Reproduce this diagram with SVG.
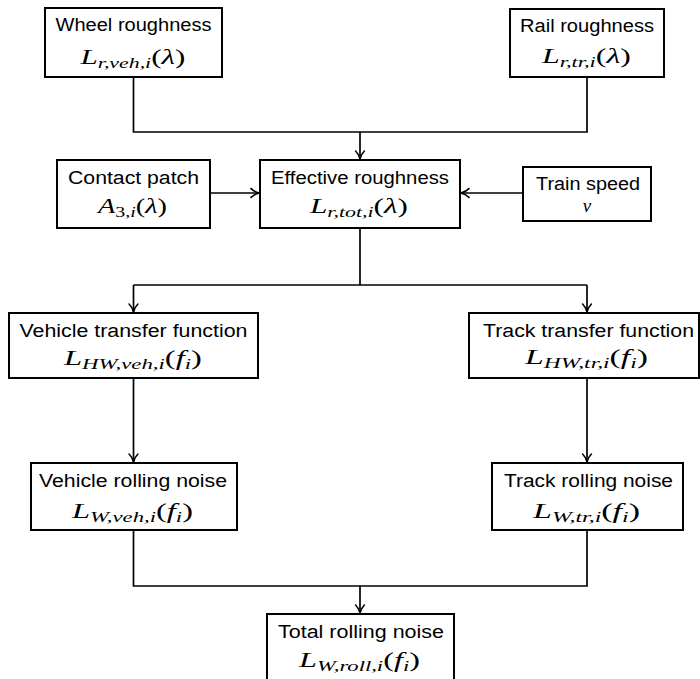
<svg xmlns="http://www.w3.org/2000/svg" width="700" height="679" viewBox="0 0 700 679">
  <style>
    .box { fill: #ffffff; stroke: #000000; stroke-width: 2; }
    .line { fill: none; stroke: #000000; stroke-width: 1.7; }
    .t { font-family: "Liberation Sans", Arial, sans-serif; font-size: 18px; fill: #000000; text-anchor: middle; }
    .m { font-family: "Liberation Serif", "Times New Roman", serif; font-size: 20px; font-style: italic; fill: #000000; text-anchor: middle; }
    .sub { font-size: 14px; }
    .up { font-style: normal; }
  </style>
  <defs>
    <marker id="tip" markerUnits="userSpaceOnUse" viewBox="-10 -6 12 12" refX="0" refY="0" markerWidth="12" markerHeight="12" orient="auto">
      <path d="M-8,-4.4 C-6,-2.3 -2,-0.6 0,0 C-2,0.6 -6,2.3 -8,4.4" fill="none" stroke="#000000" stroke-width="1.6" stroke-linecap="round"/>
    </marker>
  </defs>

  <rect width="700" height="679" fill="#ffffff"/>

  <!-- connectors -->
  <g id="connectors">
    <!-- wheel + rail roughness merge into effective roughness -->
    <path class="line" d="M133.5,77 V132 H587 V77"/>
    <path class="line" d="M360,132 V159" marker-end="url(#tip)"/>
    <!-- side inputs -->
    <path class="line" d="M210,193 H259" marker-end="url(#tip)"/>
    <path class="line" d="M523,193 H461" marker-end="url(#tip)"/>
    <!-- effective roughness splits to the transfer functions -->
    <path class="line" d="M360,228 V285"/>
    <path class="line" d="M133.5,285 H587"/>
    <path class="line" d="M133.5,285 V312" marker-end="url(#tip)"/>
    <path class="line" d="M587,285 V312" marker-end="url(#tip)"/>
    <!-- transfer functions to rolling noise -->
    <path class="line" d="M133.5,378 V462" marker-end="url(#tip)"/>
    <path class="line" d="M587,378 V462" marker-end="url(#tip)"/>
    <!-- rolling noise merge into total -->
    <path class="line" d="M133.5,530 V586 H587 V530"/>
    <path class="line" d="M360,586 V613" marker-end="url(#tip)"/>
  </g>

  <g id="wheel-roughness">
    <rect class="box" x="45" y="8" width="177" height="69"/>
    <text class="t" x="133.5" y="31" textLength="156" lengthAdjust="spacingAndGlyphs">Wheel roughness</text>
    <text class="m" x="133" y="64" textLength="105" lengthAdjust="spacingAndGlyphs">L<tspan class="sub" dy="4">r,veh,i</tspan><tspan class="up" dy="-4">(</tspan>λ<tspan class="up">)</tspan></text>
  </g>

  <g id="rail-roughness">
    <rect class="box" x="510" y="9" width="154" height="68"/>
    <text class="t" x="587" y="32" textLength="134" lengthAdjust="spacingAndGlyphs">Rail roughness</text>
    <text class="m" x="586.5" y="63" textLength="89" lengthAdjust="spacingAndGlyphs">L<tspan class="sub" dy="4">r,tr,i</tspan><tspan class="up" dy="-4">(</tspan>λ<tspan class="up">)</tspan></text>
  </g>

  <g id="contact-patch">
    <rect class="box" x="57" y="160" width="153" height="68"/>
    <text class="t" x="133.5" y="184" textLength="131" lengthAdjust="spacingAndGlyphs">Contact patch</text>
    <text class="m" x="132.5" y="213" textLength="69" lengthAdjust="spacingAndGlyphs">A<tspan class="sub up" dy="4">3</tspan><tspan class="sub">,i</tspan><tspan class="up" dy="-4">(</tspan>λ<tspan class="up">)</tspan></text>
  </g>

  <g id="effective-roughness">
    <rect class="box" x="260" y="160" width="200" height="68"/>
    <text class="t" x="360" y="184" textLength="178" lengthAdjust="spacingAndGlyphs">Effective roughness</text>
    <text class="m" x="359" y="213" textLength="98" lengthAdjust="spacingAndGlyphs">L<tspan class="sub" dy="4">r,tot,i</tspan><tspan class="up" dy="-4">(</tspan>λ<tspan class="up">)</tspan></text>
  </g>

  <g id="train-speed">
    <rect class="box" x="523" y="167" width="128" height="54"/>
    <text class="t" x="588" y="189.5" textLength="104" lengthAdjust="spacingAndGlyphs">Train speed</text>
    <text class="m" x="587" y="211.5" style="font-size:19px">v</text>
  </g>

  <g id="vehicle-transfer">
    <rect class="box" x="9" y="313" width="249" height="65"/>
    <text class="t" x="133.5" y="337" textLength="228" lengthAdjust="spacingAndGlyphs">Vehicle transfer function</text>
    <text class="m" x="133" y="365" textLength="138" lengthAdjust="spacingAndGlyphs">L<tspan class="sub" dy="4">HW,veh,i</tspan><tspan class="up" dy="-4">(</tspan>f<tspan class="sub" dy="4">i</tspan><tspan class="up" dy="-4">)</tspan></text>
  </g>

  <g id="track-transfer">
    <rect class="box" x="469" y="313" width="230" height="65"/>
    <text class="t" x="588.5" y="337" textLength="211" lengthAdjust="spacingAndGlyphs">Track transfer function</text>
    <text class="m" x="586.5" y="364" textLength="123" lengthAdjust="spacingAndGlyphs">L<tspan class="sub" dy="4">HW,tr,i</tspan><tspan class="up" dy="-4">(</tspan>f<tspan class="sub" dy="4">i</tspan><tspan class="up" dy="-4">)</tspan></text>
  </g>

  <g id="vehicle-rolling">
    <rect class="box" x="31" y="463" width="206" height="67"/>
    <text class="t" x="133" y="487" textLength="188" lengthAdjust="spacingAndGlyphs">Vehicle rolling noise</text>
    <text class="m" x="132.5" y="518" textLength="121" lengthAdjust="spacingAndGlyphs">L<tspan class="sub" dy="4">W,veh,i</tspan><tspan class="up" dy="-4">(</tspan>f<tspan class="sub" dy="4">i</tspan><tspan class="up" dy="-4">)</tspan></text>
  </g>

  <g id="track-rolling">
    <rect class="box" x="492" y="463" width="191" height="67"/>
    <text class="t" x="588.5" y="487" textLength="169" lengthAdjust="spacingAndGlyphs">Track rolling noise</text>
    <text class="m" x="586.5" y="518" textLength="107" lengthAdjust="spacingAndGlyphs">L<tspan class="sub" dy="4">W,tr,i</tspan><tspan class="up" dy="-4">(</tspan>f<tspan class="sub" dy="4">i</tspan><tspan class="up" dy="-4">)</tspan></text>
  </g>

  <g id="total-rolling">
    <rect class="box" x="267" y="614" width="187" height="80"/>
    <text class="t" x="361" y="638" textLength="166" lengthAdjust="spacingAndGlyphs">Total rolling noise</text>
    <text class="m" x="359.5" y="667" textLength="121" lengthAdjust="spacingAndGlyphs">L<tspan class="sub" dy="4">W,roll,i</tspan><tspan class="up" dy="-4">(</tspan>f<tspan class="sub" dy="4">i</tspan><tspan class="up" dy="-4">)</tspan></text>
  </g>
</svg>
